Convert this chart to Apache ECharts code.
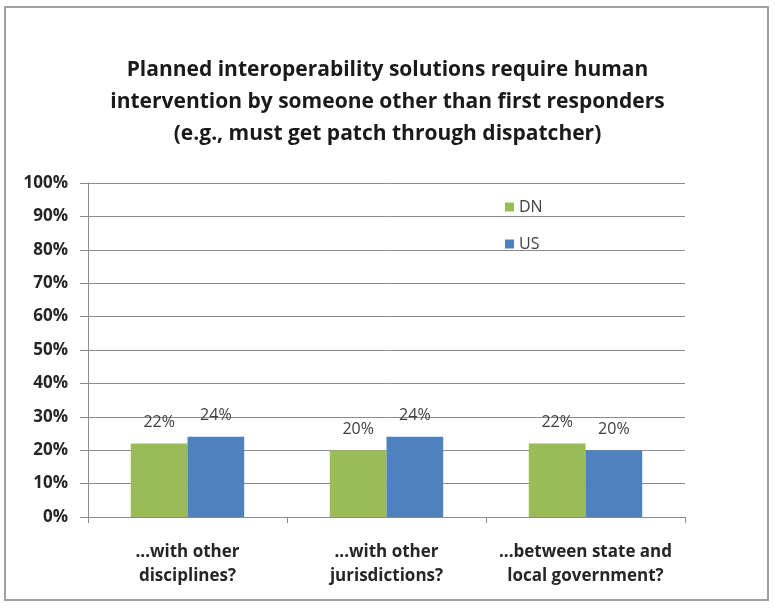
<!DOCTYPE html>
<html>
<head>
<meta charset="utf-8">
<script src="https://cdn.jsdelivr.net/npm/echarts@6/dist/echarts.min.js"></script>
<style>
  html, body { margin: 0; padding: 0; background: #fff; }
  #chart { width: 775px; height: 609px; }
</style>
</head>
<body>
<div id="chart"></div>
<script>
const categories = ['...with other\ndisciplines?', '...with other\njurisdictions?', '...between state and\nlocal government?']
const dnValues = [22, 20, 22]
const usValues = [24, 24, 20]
const seriesNames = ['DN', 'US']

const titleText = 'Planned interoperability solutions require human\nintervention by someone other than first responders\n(e.g., must get patch through dispatcher)'

const labelStyle = {
  show: true,
  position: 'top',
  distance: 13,
  formatter: '{c}%',
  color: '#404040',
  fontFamily: 'Open Sans',
  fontSize: 16
}

const chart = echarts.init(document.getElementById('chart'))
chart.setOption({
  backgroundColor: '#fff',
  animation: false,
  graphic: [{
    type: 'rect',
    shape: { x: 5, y: 7, width: 763, height: 593 },
    style: { fill: 'none', stroke: '#a0a0a0', lineWidth: 2 }
  }],
  title: {
    text: titleText,
    left: 'center',
    top: 49,
    textStyle: {
      fontFamily: 'Open Sans',
      fontWeight: 'bold',
      fontSize: 21,
      lineHeight: 32,
      color: '#1a1a1a'
    }
  },
  legend: {
    orient: 'vertical',
    left: 500,
    top: 194,
    itemGap: 21,
    itemWidth: 9,
    itemHeight: 9,
    icon: 'rect',
    data: seriesNames,
    textStyle: { fontFamily: 'Open Sans', fontSize: 16, color: '#404040' }
  },
  grid: { left: 88, right: 90, top: 183, bottom: 92 },
  xAxis: {
    type: 'category',
    data: categories,
    axisLine: { lineStyle: { color: '#8c8c8c' } },
    axisTick: { show: true, length: 6, lineStyle: { color: '#8c8c8c' } },
    axisLabel: {
      interval: 0,
      margin: 23,
      fontFamily: 'Open Sans',
      fontWeight: 'bold',
      fontSize: 17,
      lineHeight: 24,
      color: '#262626'
    }
  },
  yAxis: {
    type: 'value',
    min: 0,
    max: 100,
    interval: 10,
    axisLine: { show: true, lineStyle: { color: '#8c8c8c' } },
    axisTick: { show: true, length: 8, lineStyle: { color: '#8c8c8c' } },
    splitLine: { lineStyle: { color: '#8c8c8c' } },
    axisLabel: {
      formatter: '{value}%',
      margin: 20,
      fontFamily: 'Open Sans',
      fontWeight: 'bold',
      fontSize: 17,
      color: '#262626'
    }
  },
  series: [
    {
      name: seriesNames[0],
      type: 'bar',
      data: dnValues,
      barGap: '0%',
      barCategoryGap: '43%',
      itemStyle: { color: '#9bbb59' },
      label: labelStyle
    },
    {
      name: seriesNames[1],
      type: 'bar',
      data: usValues,
      itemStyle: { color: '#4f81bd' },
      label: labelStyle
    }
  ]
})
</script>
</body>
</html>
